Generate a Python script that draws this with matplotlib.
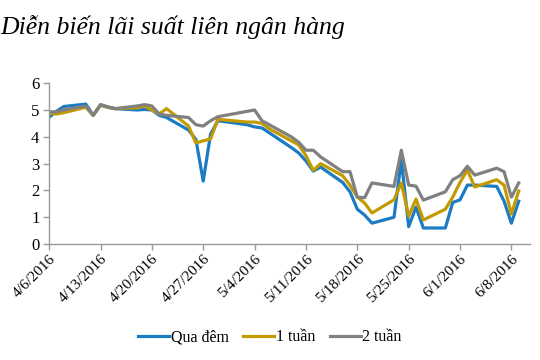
import pandas as pd
import matplotlib
matplotlib.use("Agg")
import matplotlib.pyplot as plt

# business days shown in the chart
dates = ["4/6/2016", "4/7/2016", "4/8/2016", "4/11/2016", "4/12/2016", "4/13/2016",
         "4/14/2016", "4/15/2016", "4/18/2016", "4/19/2016", "4/20/2016", "4/21/2016",
         "4/22/2016", "4/25/2016", "4/26/2016", "4/27/2016", "4/28/2016", "4/29/2016",
         "5/3/2016", "5/4/2016", "5/5/2016", "5/6/2016", "5/9/2016", "5/10/2016",
         "5/11/2016", "5/12/2016", "5/13/2016", "5/16/2016", "5/17/2016", "5/18/2016",
         "5/19/2016", "5/20/2016", "5/23/2016", "5/24/2016", "5/25/2016", "5/26/2016",
         "5/27/2016", "5/30/2016", "5/31/2016", "6/1/2016", "6/2/2016", "6/3/2016",
         "6/6/2016", "6/7/2016", "6/8/2016", "6/9/2016"]

qua_dem = [4.73, 4.95, 5.13, 5.22, 4.80, 5.18, 5.10, 5.05, 5.00, 5.02, 5.00, 4.80,
           4.72, 4.25, 3.90, 2.35, 4.10, 4.60, 4.45, 4.37, 4.33, 4.15, 3.60, 3.40,
           3.10, 2.72, 2.87, 2.30, 1.95, 1.30, 1.08, 0.78, 1.00, 3.13, 0.65, 1.38,
           0.60, 0.60, 1.55, 1.65, 2.20, 2.20, 2.15, 1.60, 0.78, 1.60]

mot_tuan = [4.88, 4.85, 4.90, 5.10, 4.80, 5.18, 5.10, 5.05, 5.08, 5.15, 5.00, 4.85,
            5.05, 4.40, 3.77, 3.85, 3.92, 4.65, 4.55, 4.55, 4.50, 4.30, 3.85, 3.70,
            3.30, 2.75, 3.00, 2.55, 2.20, 1.75, 1.53, 1.16, 1.65, 2.28, 1.04, 1.68,
            0.90, 1.30, 1.75, 2.30, 2.76, 2.13, 2.40, 2.20, 1.12, 1.98]

hai_tuan = [4.93, 4.93, 5.00, 5.15, 4.80, 5.20, 5.12, 5.05, 5.15, 5.20, 5.15, 4.85,
            4.80, 4.72, 4.45, 4.40, 4.60, 4.75, 4.95, 5.00, 4.60, 4.45, 4.00, 3.80,
            3.50, 3.50, 3.25, 2.70, 2.70, 1.75, 1.73, 2.28, 2.15, 3.50, 2.20, 2.16,
            1.64, 1.95, 2.40, 2.55, 2.90, 2.57, 2.83, 2.70, 1.75, 2.28]

tick_labels = ["4/6/2016", "4/13/2016", "4/20/2016", "4/27/2016", "5/4/2016",
               "5/11/2016", "5/18/2016", "5/25/2016", "6/1/2016", "6/8/2016"]

x = pd.to_datetime(dates, format="%m/%d/%Y")
ticks = pd.to_datetime(tick_labels, format="%m/%d/%Y")

serif = ["Liberation Serif", "DejaVu Serif"]

fig = plt.figure(figsize=(5.4, 3.6), dpi=100)
ax = fig.add_axes([0.091, 0.322, 0.890, 0.447])

ax.plot(x, qua_dem, color="#1B7CC4", lw=2.3, label="Qua đêm", solid_joinstyle="round")
ax.plot(x, mot_tuan, color="#C49A00", lw=2.3, label="1 tuần", solid_joinstyle="round")
ax.plot(x, hai_tuan, color="#808080", lw=2.3, label="2 tuần", solid_joinstyle="round")

ax.set_ylim(0, 6)
ax.set_yticks(range(0, 7))
ax.set_xlim(ticks[0], ticks[0] + pd.Timedelta(days=65.5))
ax.set_xticks(ticks)
ax.set_xticklabels(tick_labels, rotation=45, ha="right", rotation_mode="anchor",
                   family=serif, fontsize=11)
for lab in ax.get_yticklabels():
    lab.set_family(serif)
    lab.set_fontsize(12)

for side in ("top", "right"):
    ax.spines[side].set_visible(False)
for side in ("left", "bottom"):
    ax.spines[side].set_color("#999999")
    ax.spines[side].set_linewidth(1.0)
ax.tick_params(axis="both", color="#999999", length=4, width=1.0, pad=3)
ax.tick_params(axis="x", pad=2)

fig.text(0.0, 0.905, "Diễn biến lãi suất liên ngân hàng", family=serif,
         style="italic", fontsize=18.5, ha="left", va="baseline")

fig.legend(loc="center", bbox_to_anchor=(0.5, 0.063), ncol=3, frameon=False,
           prop={"family": serif, "size": 11.5}, handlelength=1.95, handletextpad=0.1,
           columnspacing=0.9)

fig.savefig("out.png", dpi=100)
